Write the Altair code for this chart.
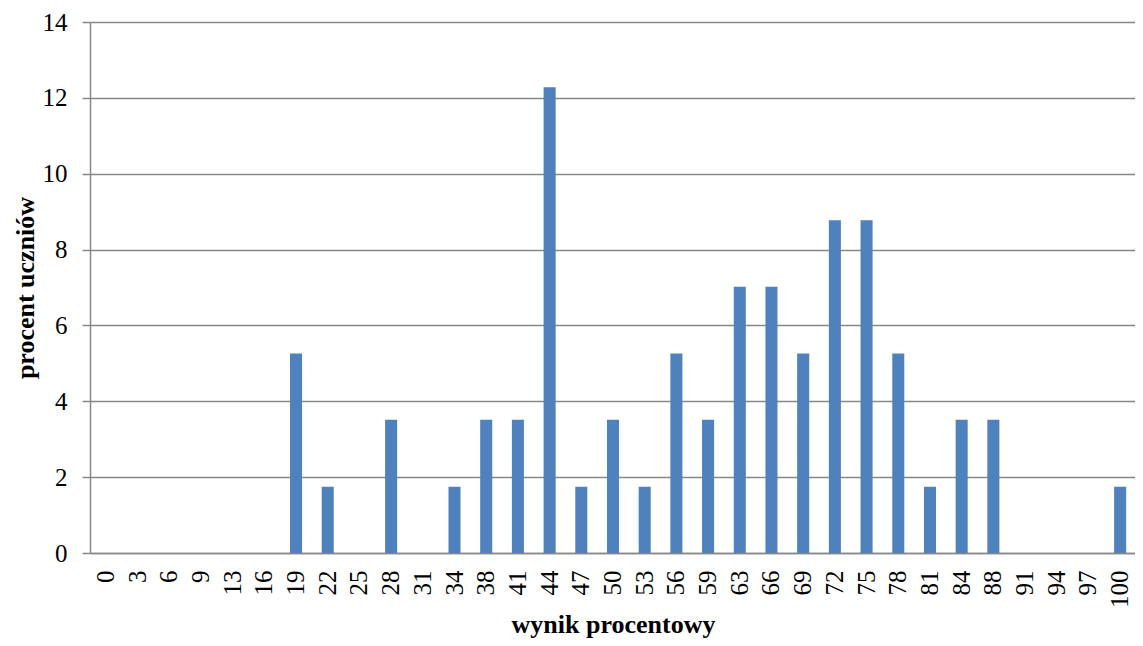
import altair as alt
import pandas as pd

categories = ["0","3","6","9","13","16","19","22","25","28","31","34","38","41","44","47","50",
              "53","56","59","63","66","69","72","75","78","81","84","88","91","94","97","100"]
values = [0,0,0,0,0,0,5.26,1.75,0,3.51,0,1.75,3.51,3.51,12.28,1.75,3.51,
          1.75,5.26,3.51,7.02,7.02,5.26,8.77,8.77,5.26,1.75,3.51,3.51,0,0,0,1.75]

df = pd.DataFrame({"wynik": categories, "procent": values})

FONT = "Liberation Serif"

chart = alt.Chart(df).mark_bar(color="#4F81BD").encode(
    x=alt.X("wynik:N", sort=categories,
            scale=alt.Scale(paddingInner=0.62, paddingOuter=0.31, range=[0, 1046]),
            axis=alt.Axis(title="wynik procentowy", labelAngle=270, labelAlign="right",
                          labelBaseline="middle", ticks=False, labelPadding=17,
                          labelFontSize=25, labelFont=FONT, labelColor="black",
                          titleFont=FONT, titleFontSize=26, titleFontWeight="bold",
                          titleColor="black", titleY=79, titleBaseline="alphabetic",
                          domainColor="#888888", domainWidth=1.5, grid=False)),
    y=alt.Y("procent:Q",
            scale=alt.Scale(domain=[0, 14], nice=False),
            axis=alt.Axis(title="procent uczniów", values=[0,2,4,6,8,10,12,14],
                          tickSize=8, tickColor="#888888", tickWidth=1.5,
                          labelPadding=15, labelFontSize=25, labelFont=FONT,
                          labelColor="black", titleFont=FONT, titleFontSize=26,
                          titleFontWeight="bold", titleColor="black",
                          titleX=-57, titleBaseline="alphabetic",
                          domainColor="#888888", domainWidth=1.5,
                          gridColor="#888888", gridWidth=1.5)),
).properties(
    width=1045, height=531,
    autosize=alt.AutoSizeParams(type="none"),
    padding={"left": 82, "top": 14, "right": 0, "bottom": 85},
).configure_view(stroke=None)

chart.save("out.html", embed_options={"renderer": "svg", "actions": False})
